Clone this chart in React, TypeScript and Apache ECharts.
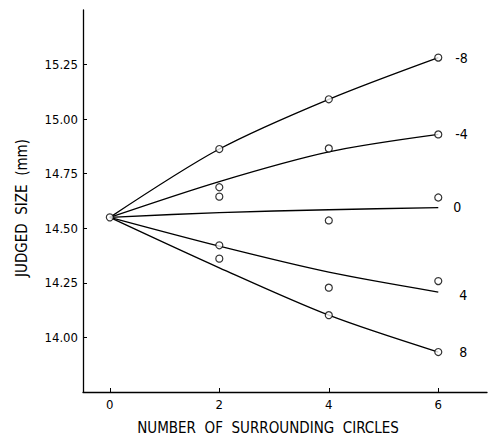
import React, { useEffect, useRef } from "react";
import * as echarts from "echarts";

const xTicks = [0, 2, 4, 6];
const yTicks = [14.0, 14.25, 14.5, 14.75, 15.0, 15.25];
const fitX = [0, 2, 4, 6];

const seriesNames = ["-8", "-4", "0", "4", "8"];
const fitMinus8 = [14.55, 14.863, 15.091, 15.282];
const fitMinus4 = [14.55, 14.714, 14.85, 14.93];
const fitZero = [14.55, 14.572, 14.585, 14.595];
const fitPlus4 = [14.55, 14.418, 14.299, 14.208];
const fitPlus8 = [14.55, 14.319, 14.102, 13.933];

const obsOrigin = [[0, 14.55]];
const obsMinus8 = [[2, 14.863], [4, 15.091], [6, 15.282]];
const obsMinus4 = [[2, 14.688], [4, 14.866], [6, 14.93]];
const obsZero = [[2, 14.645], [4, 14.536], [6, 14.641]];
const obsPlus4 = [[2, 14.422], [4, 14.228], [6, 14.258]];
const obsPlus8 = [[2, 14.361], [4, 14.102], [6, 13.933]];

const FONT = "'DejaVu Sans Condensed', 'Liberation Sans Narrow', 'DejaVu Sans', sans-serif";

export default function App() {
  const ref = useRef<HTMLDivElement>(null);
  useEffect(() => {
    document.body.style.margin = "0";
    const chart = echarts.init(ref.current!, null, { renderer: "svg" });
    const fits = [fitMinus8, fitMinus4, fitZero, fitPlus4, fitPlus8];
    const labelDist = [17, 17, 15, 21, 21];
    const labelOff = [[0, 0], [0, 0], [0, -1], [0, 3], [0, 0]];
    const lineSeries = fits.map((f, i) => ({
      type: "line",
      name: seriesNames[i],
      data: fitX.map((x, j) => [x, f[j]]),
      smooth: 0.3,
      showSymbol: false,
      symbol: "none",
      lineStyle: { color: "#000", width: 1.3 },
      endLabel: {
        show: true,
        formatter: seriesNames[i],
        distance: labelDist[i],
        offset: labelOff[i],
        color: "#000",
        fontFamily: FONT,
        fontSize: 14,
      },
      z: 2,
    }));
    const obs = [obsOrigin, obsMinus8, obsMinus4, obsZero, obsPlus4, obsPlus8];
    const scatterSeries = obs.map((d) => ({
      type: "scatter",
      data: d,
      symbol: "circle",
      symbolSize: 7,
      itemStyle: { color: "#fff", borderColor: "#000", borderWidth: 1.2 },
      z: 3,
    }));
    chart.setOption({
      animation: false,
      backgroundColor: "#fff",
      grid: { left: 83, right: 1, top: 10, bottom: 52, containLabel: false },
      xAxis: {
        type: "value",
        min: -0.49,
        max: 6.89,
        splitLine: { show: false },
        axisLine: { onZero: false, lineStyle: { color: "#000", width: 1.3 } },
        axisTick: { inside: true, length: 4, customValues: xTicks, lineStyle: { color: "#000" } },
        axisLabel: {
          customValues: xTicks,
          color: "#000",
          fontFamily: FONT,
          fontSize: 13,
          margin: 6,
        },
      },
      yAxis: {
        type: "value",
        min: 13.75,
        max: 15.5,
        splitLine: { show: false },
        axisLine: { onZero: false, lineStyle: { color: "#000", width: 1.3 } },
        axisTick: { inside: true, length: 4, customValues: yTicks, lineStyle: { color: "#000" } },
        axisLabel: {
          customValues: yTicks,
          formatter: (v: number) => v.toFixed(2),
          color: "#000",
          fontFamily: FONT,
          fontSize: 13,
          margin: 5,
        },
      },
      graphic: [
        {
          type: "text",
          x: 268,
          y: 428,
          style: {
            text: "NUMBER  OF  SURROUNDING  CIRCLES",
            fill: "#000",
            font: `15px ${FONT}`,
            align: "center",
            verticalAlign: "middle",
          },
        },
        {
          type: "text",
          x: 22,
          y: 208,
          rotation: Math.PI / 2,
          style: {
            text: "JUDGED  SIZE  (mm)",
            fill: "#000",
            font: `15px ${FONT}`,
            align: "center",
            verticalAlign: "middle",
          },
        },
      ],
      series: [...lineSeries, ...scatterSeries],
    });
    return () => chart.dispose();
  }, []);
  return <div ref={ref} style={{ width: 488, height: 444 }} />;
}
